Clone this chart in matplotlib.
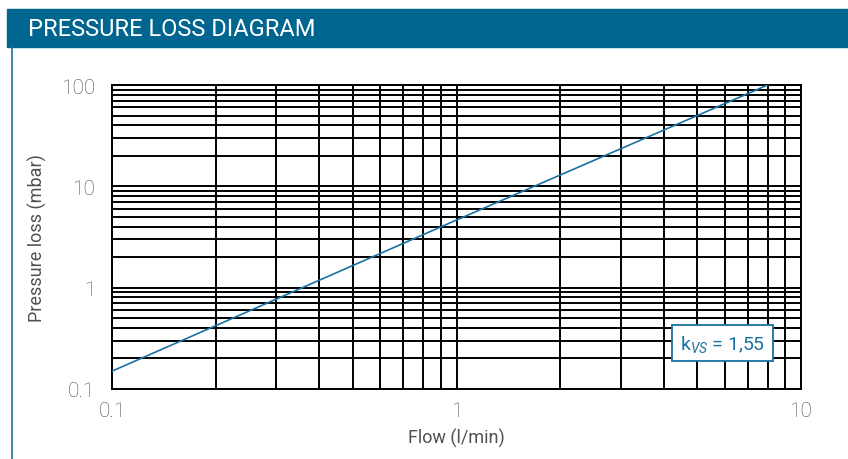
import matplotlib
matplotlib.use('Agg')
import matplotlib.pyplot as plt
from matplotlib.patches import Rectangle
from matplotlib.lines import Line2D
from matplotlib.ticker import LogLocator, FixedLocator, NullFormatter

# values
flow = [0.1, 1.0, 8.0]          # l/min
pressure = [0.15, 4.65, 100.0]  # mbar
x_ticks = [0.1, 1, 10]
x_labels = ['0.1', '1', '10']
y_ticks = [0.1, 1, 10, 100]
y_labels = ['0.1', '1', '10', '100']
kvs_text = 'k$_{\\mathit{VS}}$ = 1,55'

blue = '#00658f'
line_blue = '#1a72a3'
grey = '#505050'

plt.rcParams['font.family'] = ['Roboto', 'DejaVu Sans']
plt.rcParams['mathtext.fontset'] = 'custom'
plt.rcParams['mathtext.it'] = 'Roboto:italic'
plt.rcParams['mathtext.rm'] = 'Roboto'

fig = plt.figure(figsize=(8.48, 4.6), dpi=100)

# header band and left frame line
fig.patches.append(Rectangle((7 / 848, 1 - 47.5 / 460), 1, 37.5 / 460,
                             transform=fig.transFigure, color=blue, zorder=0))
fig.lines.append(Line2D([12.3 / 848, 12.3 / 848], [0, 1 - 47.5 / 460],
                        transform=fig.transFigure, color=line_blue, lw=1.2))
fig.text(28 / 848, 1 - 30 / 460, 'PRESSURE LOSS DIAGRAM', color='white',
         fontsize=17, va='center', ha='left')

ax = fig.add_axes([112 / 848, 70 / 460, 689 / 848, 304 / 460])
ax.set_xscale('log')
ax.set_yscale('log')
ax.set_xlim(0.1, 10)
ax.set_ylim(0.1, 100)

ax.xaxis.set_major_locator(FixedLocator(x_ticks))
ax.yaxis.set_major_locator(FixedLocator(y_ticks))
ax.set_xticklabels(x_labels, fontweight='light')
ax.set_yticklabels(y_labels, fontweight='light')
ax.xaxis.set_minor_locator(LogLocator(base=10, subs=range(2, 10)))
ax.yaxis.set_minor_locator(LogLocator(base=10, subs=range(2, 10)))
ax.xaxis.set_minor_formatter(NullFormatter())
ax.yaxis.set_minor_formatter(NullFormatter())
ax.tick_params(which='both', length=0, colors=grey, labelsize=15)
ax.tick_params(axis='x', pad=9)
ax.tick_params(axis='y', pad=12)

ax.grid(True, which='both', color='black', lw=1.4)
for s in ax.spines.values():
    s.set_color('black')
    s.set_linewidth(1.4)

ax.plot(flow, pressure, color=line_blue, lw=1.2, zorder=3)

ax.set_xlabel('Flow (l/min)', color=grey, fontsize=13, labelpad=5)
ax.set_ylabel('Pressure loss (mbar)', color=grey, fontsize=13, labelpad=10)

ax.text(0.886, 0.151, kvs_text, transform=ax.transAxes, color=line_blue,
        fontsize=14, ha='center', va='center', zorder=5,
        bbox=dict(boxstyle='square,pad=0.4', fc='white', ec=line_blue, lw=1.3))

fig.savefig('out.png', dpi=100)
